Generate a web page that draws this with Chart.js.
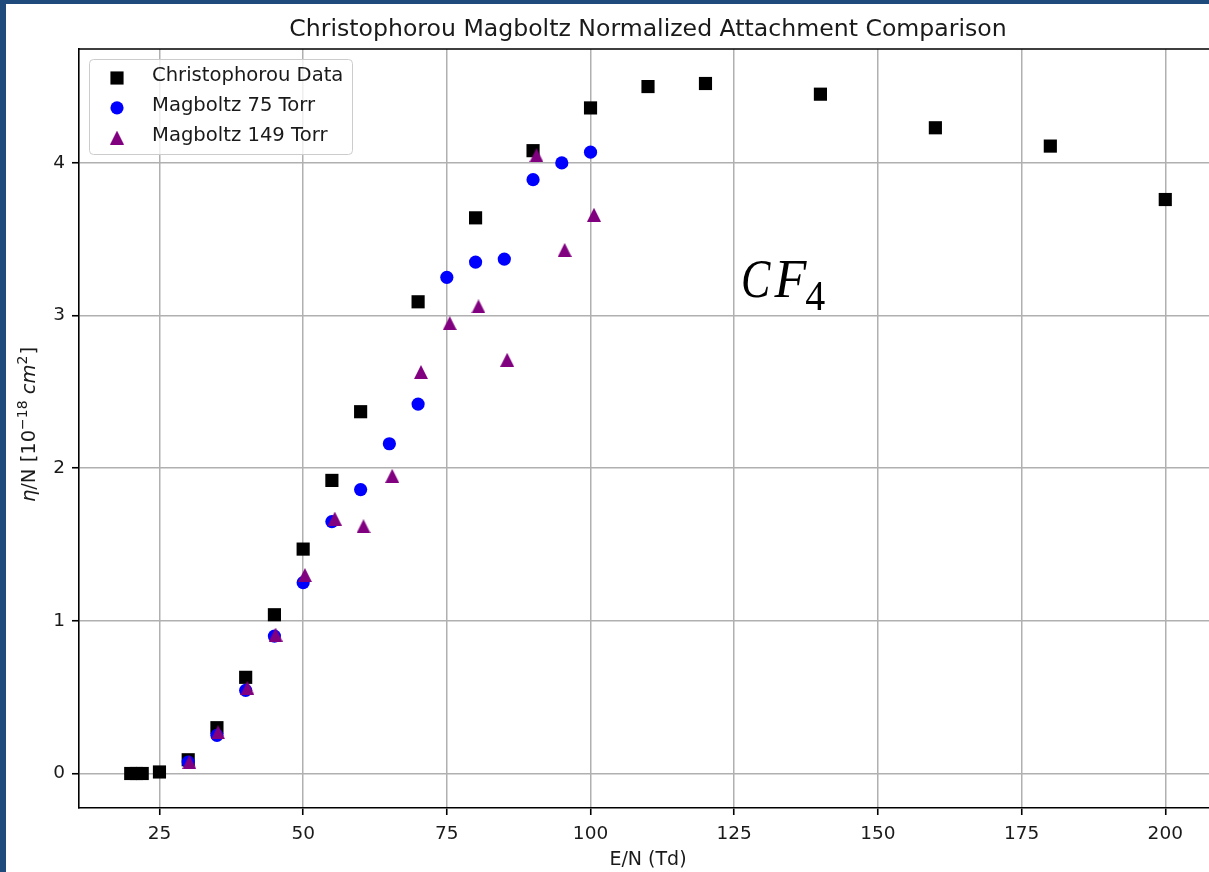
<!DOCTYPE html>
<html>
<head>
<meta charset="utf-8">
<script src="https://cdn.jsdelivr.net/npm/chart.js@4.4.1/dist/chart.umd.min.js"></script>
<style>
  html, body { margin: 0; padding: 0; width: 1209px; height: 872px; overflow: hidden; background: #1f4a7c; }
  #wrap { position: absolute; left: 6px; top: 4px; width: 1240px; height: 868px; background: #fff; }
</style>
</head>
<body>
<div id="wrap"><canvas id="chart" width="1240" height="868"></canvas></div>
<script>
// Christophorou data
const chrisX = [20, 21, 22, 25, 30, 35, 40, 45, 50, 55, 60, 70, 80, 90, 100, 110, 120, 140, 160, 180, 200];
const chrisY = [0, 0, 0, 0.01, 0.09, 0.30, 0.63, 1.04, 1.47, 1.92, 2.37, 3.09, 3.64, 4.08, 4.36, 4.50, 4.52, 4.45, 4.23, 4.11, 3.76];

// Magboltz 75 Torr
const mag75X = [30, 35, 40, 45, 50, 55, 60, 65, 70, 75, 80, 85, 90, 95, 100];
const mag75Y = [0.075, 0.25, 0.545, 0.90, 1.25, 1.65, 1.86, 2.16, 2.42, 3.25, 3.35, 3.37, 3.89, 4.00, 4.07];

// Magboltz 149 Torr
const mag149X = [30.2, 35.2, 40.3, 45.2, 50.3, 55.5, 60.5, 65.5, 70.5, 75.5, 80.5, 85.5, 90.6, 95.5, 100.6];
const mag149Y = [0.075, 0.27, 0.56, 0.91, 1.30, 1.67, 1.62, 1.95, 2.63, 2.95, 3.06, 2.71, 4.05, 3.43, 3.66];

const xTicks = [25, 50, 75, 100, 125, 150, 175, 200];
const yTicks = [0, 1, 2, 3, 4];

const titleText = 'Christophorou Magboltz Normalized Attachment Comparison';
const xLabel = 'E/N (Td)';

function pts(xs, ys) {
    return xs.map((x, i) => ({ x: x, y: ys[i] }));
}

// matplotlib style '^' marker: point sits in the middle of the bounding box
function makeTriangle(size, color) {
    const c = document.createElement('canvas');
    c.width = size;
    c.height = size;
    const g = c.getContext('2d');
    g.fillStyle = color;
    g.beginPath();
    g.moveTo(size / 2, 0);
    g.lineTo(size, size);
    g.lineTo(0, size);
    g.closePath();
    g.fill();
    return c;
}

const triangle = makeTriangle(14, '#800080');

// text runs: t, font, optional dx / dy offsets and horizontal squeeze sx
function drawRuns(ctx, runs, x, y) {
    runs.forEach(r => {
        const sx = r.sx || 1;
        ctx.font = r.font;
        x += r.dx || 0;
        ctx.save();
        ctx.translate(x, y + (r.dy || 0));
        ctx.scale(sx, 1);
        ctx.fillText(r.t, 0, 0);
        ctx.restore();
        x += ctx.measureText(r.t).width * sx;
    });
}

function runsWidth(ctx, runs) {
    let w = 0;
    runs.forEach(r => {
        ctx.font = r.font;
        w += (r.dx || 0) + ctx.measureText(r.t).width * (r.sx || 1);
    });
    return w;
}

function drawMarker(ctx, ds, x, y) {
    ctx.fillStyle = ds.backgroundColor;
    if (ds.pointStyle === 'rect') {
        const s = ds.pointRadius * Math.SQRT2;
        ctx.fillRect(x - s / 2, y - s / 2, s, s);
    } else if (ds.pointStyle === 'circle') {
        ctx.beginPath();
        ctx.arc(x, y, ds.pointRadius, 0, Math.PI * 2);
        ctx.fill();
    } else {
        ctx.drawImage(ds.pointStyle, x - ds.pointStyle.width / 2, y - ds.pointStyle.height / 2);
    }
}

const decor = {
    id: 'decor',
    afterDraw(chart) {
        const ctx = chart.ctx;
        const a = chart.chartArea;
        const cx = (a.left + a.right) / 2;
        ctx.save();

        // top and right spines
        ctx.strokeStyle = '#000';
        ctx.lineWidth = 1.6;
        ctx.beginPath();
        ctx.moveTo(a.left, a.top);
        ctx.lineTo(a.right, a.top);
        ctx.lineTo(a.right, a.bottom);
        ctx.stroke();

        // title
        ctx.fillStyle = '#1a1a1a';
        ctx.textAlign = 'center';
        ctx.textBaseline = 'alphabetic';
        ctx.font = '23.6px "DejaVu Sans"';
        ctx.fillText(titleText, cx, 32);

        // x label
        ctx.font = '19px "DejaVu Sans"';
        ctx.fillText(xLabel, cx, 861);

        // y label
        ctx.textAlign = 'left';
        const yRuns = [
            { t: 'η', font: 'italic 19.5px "DejaVu Sans"' },
            { t: '/N [10', font: '19.5px "DejaVu Sans"' },
            { t: '−18', font: '14px "DejaVu Sans"', dy: -8 },
            { t: ' ', font: '19.5px "DejaVu Sans"' },
            { t: 'cm', font: 'italic 19.5px "DejaVu Sans"' },
            { t: '2', font: '14px "DejaVu Sans"', dy: -8 },
            { t: ']', font: '19.5px "DejaVu Sans"', dx: 1 }
        ];
        const yw = runsWidth(ctx, yRuns);
        ctx.save();
        ctx.translate(29, (a.top + a.bottom) / 2 - 4);
        ctx.rotate(-Math.PI / 2);
        drawRuns(ctx, yRuns, -yw / 2, 0);
        ctx.restore();

        // CF4 annotation, anchored in data space
        const ax = chart.scales.x.getPixelForValue(126.2);
        const ay = chart.scales.y.getPixelForValue(3.12);
        ctx.fillStyle = '#000';
        drawRuns(ctx, [
            { t: 'C', font: 'italic 55px "Liberation Serif"', sx: 0.8 },
            { t: 'F', font: 'italic 55px "Liberation Serif"', dx: 4, sx: 0.95 },
            { t: '4', font: '42px "Liberation Serif"', dx: -1, dy: 13, sx: 0.95 }
        ], ax, ay);

        // legend box
        const lx = a.left + 10, ly = a.top + 10, lw = 263, lh = 95;
        ctx.beginPath();
        ctx.roundRect(lx + 0.5, ly + 0.5, lw, lh, 4);
        ctx.fillStyle = 'rgba(255,255,255,0.8)';
        ctx.fill();
        ctx.strokeStyle = '#cccccc';
        ctx.lineWidth = 1;
        ctx.stroke();
        ctx.font = '19.6px "DejaVu Sans"';
        chart.data.datasets.forEach((ds, i) => {
            const my = a.top + 29 + i * 29.8;
            drawMarker(ctx, ds, a.left + 38, my);
            ctx.fillStyle = '#1a1a1a';
            ctx.fillText(ds.label, a.left + 73, my + 3);
        });

        ctx.restore();
    }
};

const axisGrid = {
    color: '#b0b0b0',
    lineWidth: 1.5,
    tickLength: 7,
    tickColor: '#000',
    tickWidth: 1.6
};

const config = {
    type: 'scatter',
    data: {
        datasets: [
            {
                label: 'Christophorou Data',
                data: pts(chrisX, chrisY),
                pointStyle: 'rect',
                pointRadius: 9.3,
                backgroundColor: '#000000',
                borderWidth: 0,
                order: 3
            },
            {
                label: 'Magboltz 75 Torr',
                data: pts(mag75X, mag75Y),
                pointStyle: 'circle',
                pointRadius: 6.6,
                backgroundColor: '#0000ff',
                borderWidth: 0,
                order: 2
            },
            {
                label: 'Magboltz 149 Torr',
                data: pts(mag149X, mag149Y),
                pointStyle: triangle,
                pointRadius: 7,
                backgroundColor: '#800080',
                borderWidth: 0,
                order: 1
            }
        ]
    },
    options: {
        responsive: false,
        animation: false,
        events: [],
        devicePixelRatio: 1,
        layout: {
            padding: { top: 45, right: 29, bottom: 0, left: 0 }
        },
        plugins: {
            legend: { display: false },
            title: { display: false },
            tooltip: { enabled: false }
        },
        scales: {
            x: {
                type: 'linear',
                min: 11,
                max: 209,
                afterBuildTicks: function (scale) {
                    scale.ticks = xTicks.map(v => ({ value: v }));
                },
                afterFit: function (scale) {
                    scale.height = 64;
                },
                ticks: {
                    color: '#1a1a1a',
                    font: { family: '"DejaVu Sans"', size: 18.5 },
                    padding: 8,
                    maxRotation: 0
                },
                grid: axisGrid,
                border: { color: '#000', width: 1.6 }
            },
            y: {
                type: 'linear',
                min: -0.226,
                max: 4.746,
                afterBuildTicks: function (scale) {
                    scale.ticks = yTicks.map(v => ({ value: v }));
                },
                afterFit: function (scale) {
                    scale.width = 73;
                },
                ticks: {
                    color: '#1a1a1a',
                    font: { family: '"DejaVu Sans"', size: 18.5 },
                    padding: 7
                },
                grid: axisGrid,
                border: { color: '#000', width: 1.6 }
            }
        }
    },
    plugins: [decor]
};

const chart = new Chart(document.getElementById('chart'), config);
</script>
</body>
</html>
